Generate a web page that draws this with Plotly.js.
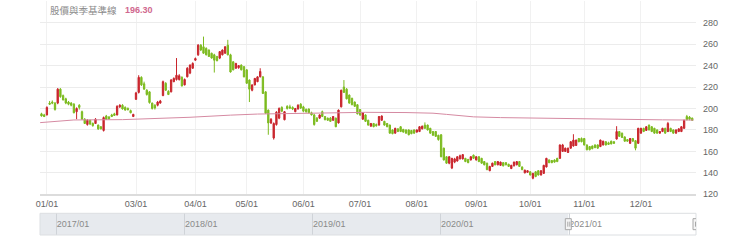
<!DOCTYPE html>
<html><head><meta charset="utf-8">
<script src="https://cdn.plot.ly/plotly-3.0.1.min.js"></script>
<style>html,body{margin:0;padding:0;background:#fff}#chart{width:740px;height:252px}</style>
</head><body><div id="chart"></div>
<script>
// Daily candles (trading-day index 0..241)
const openP = [
195,194,194,205,206,205,205,218,212,209,
206,205,204,197,203,197,190,185,189,186,
186,184.5,183,179.5,193,192,194,195,194,201.5,
203,201,200,198,192.5,208.5,215,229,223,217,
215.5,205,203,203,205,212,223.5,216,215.5,225,
227,227,229,222,229.5,233,237.5,245,250,259,
257.5,256,254.5,251.5,250,248.5,247,250,251.5,259,
250,243.5,237.5,238,240.5,239,236,226.5,217,222,
225,229.5,229.5,215.5,198.5,186.5,172.5,185,191,201,
189.5,202,201.5,201,197,199.5,204,201.5,199,199.5,
196,194,191,191,197,192.5,191,191,189,191,
186.5,201.5,220,218,212.5,209.5,206,203.5,199,190,
194,189,183.5,186,185,184.5,189,188,186,184.5,
180,177,181,183,180.5,180,180,179.5,180,178,
178.5,181,184.5,184.5,181.5,178.5,178.5,175,175.5,163,
155,149,144.5,150,151,153,153,153.5,152.5,152,
156.5,152,155,153.5,150.5,149,142,146,150.5,147.5,
147,149.5,149.5,148,144,146.5,147.5,150.5,145.5,140,
140.5,141,135,141,142,138,139.5,145.5,152,151.5,
152,153.5,153.5,160,160,159,163,165,165.5,172,
172,172,166,164.5,165,166,166,164.5,166,169,
168,169.5,169,171.5,178.5,177,173.5,171,167.5,172,
170,167.5,177,181.5,179.5,184.5,183,181.5,180,177,
178.5,181.5,178.5,181.5,180,177,178.5,178.5,181.5,192.5,
192,191];
const highP = [
196,195,202,207,207.5,206,219,219,213,210,
207,206,205,201,204,198,191,190,189.5,187,
191,185,183.5,192.5,194,193,195,196,203,204,
204,202,201,199,195,215.5,231,230,225,218,
216,205.5,204,207,208,226,224.5,217,227.5,229,
247,232,230,228,238.5,241,243,247.5,260,260,
267,257,255,252,251,249,253.5,255,258,264,
251,244,242.5,240.5,241,239.5,236.5,227,222.5,228.5,
230,237.5,230,216,199,191,187,197.5,201,202,
197.5,203,203.5,202,200.5,204,205,202.5,200,200,
197,195,192,194.5,198,193,191.5,192,193,191.5,
199,217.5,226.5,219,213,210,206.5,204,199.5,196.5,
194.5,189.5,186.5,186.5,186,193,193.5,188.5,186.5,185,
180.5,182,181.5,183.5,181,180.5,180.5,180,180.5,180.5,
183.5,184,187,185,182,179,179,175.5,176,163.5,
155.5,155.5,154,154,155.5,157,157.5,154,153,155.5,
157,155.5,155.5,154,151,149.5,146.5,149.5,151,151,
150.5,150,150,148.5,147.5,150.5,151,151,146,143,
142.5,141.5,140,141.5,142.5,142.5,147.5,154,152.5,152,
152.5,154,166.5,167,163.5,163.5,169.5,176,171,172.5,
173,172.5,166.5,165,165.5,166.5,166.5,171,170,169.5,
169,170,169.5,183.5,179,177.5,174,171.5,172.5,172.5,
170.5,182,182,182,183.5,185,183.5,182,180.5,179,
182,182,187.5,182,180.5,180.5,181.5,183.5,189.5,194,
193,191.5];
const lowP = [
192.5,192,193.5,203.5,204,198,204,210,207.5,204,
203,202,195.5,190,199,189.5,185.5,184,184.5,183,
185.5,180,180.5,178.5,189.5,189.5,192,193,193.5,200.5,
199,198,198,195.5,192,208,214,221,217.5,212,
204.5,199,199,202,204.5,211.5,216.5,212.5,215,224.5,
226,226,220.5,221.5,229,232,237,244.5,249,253.5,
251,249.5,248,246.5,233.5,244,246,249.5,251,249.5,
233.5,235.5,237,237,235.5,229,223,206,216,221.5,
224.5,229,213.5,195,175.5,185.5,171,184,190,196.5,
189,199,199.5,198.5,196.5,199,199.5,196.5,196,195.5,
193.5,184,187.5,190.5,192,189,188.5,187.5,188.5,182.5,
186,201,214.5,208.5,204.5,203,201.5,194.5,193,189.5,
187.5,184,183,182.5,183,184,188.5,184,182.5,176.5,
176,176.5,178,178,177.5,176.5,175,176,176.5,177.5,
178,180.5,181,179.5,176.5,174.5,173.5,170,154.5,151.5,
148.5,148,143.5,149,150.5,152.5,152.5,150,149,151.5,
153,151.5,150,148.5,147,142.5,141.5,145.5,147,147,
146.5,146,147,145.5,143.5,146,147,145.5,142.5,139.5,
140,137.5,134,136,137.5,137.5,139,145,149,149,
149.5,150,153,159.5,159.5,158.5,162.5,164.5,165,168.5,
168.5,165.5,161,161,162,163,162.5,164,165.5,165.5,
166,166.5,167,171,173.5,172.5,169,169,167,169,
161,167,176.5,178,179,179.5,178,176.5,176.5,176.5,
178,176.5,178,178,176.5,176.5,178,178,181,189,
189,188.5];
const closeP = [
193,192.5,201,204,205,199,218,211,208,205,
204,203,196,200,201,190,186,189,185.5,184,
190,181,181,191.5,190,190.5,192.5,193.5,202,203,
199.5,198.5,199,196,194.5,214.5,229,222,218,213,
205.5,200,200.5,206,207,225,217,213,226.5,228,
231,230.5,221,227,237.5,240.5,242,246.5,259,254.5,
251.5,250,248.5,247,245,244.5,253,254.5,257.5,250,
234,236,242,240,236,229.5,223.5,218,222,228,
229.5,234.5,214,195.5,186.5,190,186,196.5,200,197.5,
197,200,200.5,199.5,200,203,200.5,197.5,197,196,
194,185,188,194,192.5,189.5,189,188,192.5,183,
198.5,217,215,209,205,203.5,202,195,194,196,
188,184.5,186,183,184,192.5,193,184.5,183,177,
176.5,181.5,178.5,178.5,178,177,175.5,176.5,177,180,
183,183.5,181.5,180,177,175,174,171,155,152,
149,155,153.5,153,155,156,157,150.5,149.5,155,
153.5,155,150.5,149,147.5,143,146,149,147.5,150.5,
150,146.5,147.5,146,147,150,150.5,146,143,142.5,
142,138,139.5,136.5,138,142,147,153.5,149.5,149.5,
150,150.5,166,166,163,163,169,170.5,170.5,169,
169,166,161.5,161.5,162.5,163.5,163,170.5,169.5,166,
166.5,167,167.5,178.5,174,173,169.5,169.5,172,169.5,
163,181.5,181.5,178.5,183,180,178.5,177,177,178.5,
181.5,177,186,178.5,177,180,181,183,189,189.5,
190,189];

// Long-term baseline (read at selected trading-day positions)
const baseIdx = [-0.5,5,12,30,40,55,70,80,95,110,120,135,145,150,160,170,185,200,215,230,241.5];
const baseVal = [186.8,188.2,189.3,189.6,190.3,191.8,193.8,194.8,195.4,196,196.4,196.2,195.6,194.5,192.2,191.5,190.8,190.2,189.7,189.4,189.2];

// Month tick labels (trading-day index of first session of month)
const monthTickIdx = [2,35,57,76,97,118,139,161,181,201,222];
const monthTickText = ['01/01','03/01','04/01','05/01','06/01','07/01','08/01','09/01','10/01','11/01','12/01'];
const priceTicks = [120,140,160,180,200,220,240,260,280,300];

// Navigator
const navStart = '2016-11-14', navEnd = '2021-12-28';
const viewStart = '2020-12-29';

const titleText = '股價與季基準線';
const titleValue = '196.30';

const dayIdx = closeP.map((_, i) => i);

const traces = [
  {
    type: 'candlestick', x: dayIdx, open: openP, high: highP, low: lowP, close: closeP,
    xaxis: 'x', yaxis: 'y',
    increasing: {line: {color: '#c9252c', width: 1}, fillcolor: '#c9252c'},
    decreasing: {line: {color: '#7cbb1f', width: 1}, fillcolor: '#7cbb1f'},
    whiskerwidth: 0, hoverinfo: 'skip'
  },
  {
    type: 'scatter', mode: 'lines', x: baseIdx, y: baseVal, xaxis: 'x', yaxis: 'y',
    line: {color: '#d58aa2', width: 1}, hoverinfo: 'skip'
  },
  {type: 'scatter', mode: 'lines', x: [navStart, navEnd], y: [null, null], xaxis: 'x2', yaxis: 'y2', hoverinfo: 'skip'}
];

const handle = (xd) => ([
  {type: 'rect', xref: 'x2', xsizemode: 'pixel', xanchor: xd, x0: -3, x1: 3,
   yref: 'y2', ysizemode: 'pixel', yanchor: 0.5, y0: -5.5, y1: 5.5,
   fillcolor: '#f4f4f4', line: {color: '#a8a8a8', width: 1}, layer: 'above'},
  {type: 'line', xref: 'x2', xsizemode: 'pixel', xanchor: xd, x0: -0.5, x1: -0.5,
   yref: 'y2', ysizemode: 'pixel', yanchor: 0.5, y0: -2.5, y1: 2.5,
   line: {color: '#a8a8a8', width: 1}, layer: 'above'},
  {type: 'line', xref: 'x2', xsizemode: 'pixel', xanchor: xd, x0: 1.5, x1: 1.5,
   yref: 'y2', ysizemode: 'pixel', yanchor: 0.5, y0: -2.5, y1: 2.5,
   line: {color: '#a8a8a8', width: 1}, layer: 'above'}
]);

const layout = {
  width: 740, height: 252,
  margin: {l: 40, r: 44, t: 0, b: 17},
  paper_bgcolor: '#ffffff', plot_bgcolor: '#ffffff',
  showlegend: false, hovermode: false,
  font: {family: '"Liberation Sans", Arial, sans-serif', size: 9, color: '#666'},
  xaxis: {
    domain: [0, 1], anchor: 'y', range: [-0.556, 242.4],
    tickmode: 'array', tickvals: monthTickIdx, ticktext: monthTickText,
    showgrid: true, gridcolor: '#f1f1f1', gridwidth: 1,
    showline: true, linecolor: '#dcdcdc', linewidth: 1.5,
    ticks: '', zeroline: false, rangeslider: {visible: false},
    tickfont: {size: 9, color: '#666'}, fixedrange: true
  },
  yaxis: {
    domain: [0.1732, 0.9949], anchor: 'x', range: [120, 300], side: 'right',
    tickmode: 'array', tickvals: priceTicks,
    showgrid: true, gridcolor: '#ececec', gridwidth: 1, zeroline: false,
    ticks: '', ticklabelstandoff: 6, tickfont: {size: 9, color: '#666'}, fixedrange: true
  },
  xaxis2: {
    domain: [0, 1], anchor: 'y2', type: 'date', range: [navStart, navEnd],
    tick0: '2017-01-01', dtick: 'M12', tickformat: '%Y/%m',
    ticklabelposition: 'inside right', ticks: '',
    showgrid: true, gridcolor: '#cfd3d8', gridwidth: 1,
    showline: false, zeroline: false, tickfont: {size: 9, color: '#8a8a8a'}, fixedrange: true
  },
  yaxis2: {
    domain: [0, 0.0923], anchor: 'x2', range: [0, 1],
    showgrid: false, showticklabels: false, zeroline: false, showline: false, fixedrange: true
  },
  shapes: [
    {type: 'rect', xref: 'x2', yref: 'y2 domain', x0: navStart, x1: viewStart, y0: 0, y1: 1,
     fillcolor: '#e7eaee', line: {width: 0}, layer: 'below'},
    {type: 'rect', xref: 'x2 domain', yref: 'y2 domain', x0: 0, x1: 1, y0: 0, y1: 1,
     fillcolor: 'rgba(0,0,0,0)', line: {color: '#dcdfe2', width: 1}, layer: 'above'},
    ...handle(viewStart), ...handle(navEnd)
  ],
  annotations: [
    {text: titleText, xref: 'paper', yref: 'paper', x: 0.0115, y: 0.957, xanchor: 'left', yanchor: 'middle',
     showarrow: false, font: {family: '"Noto Sans CJK TC", "Noto Sans CJK SC", sans-serif', size: 9.5, color: '#8a8a8a'}},
    {text: '<b>' + titleValue + '</b>', xref: 'paper', yref: 'paper', x: 0.1265, y: 0.957, xanchor: 'left', yanchor: 'middle',
     showarrow: false, font: {family: '"Liberation Sans", Arial, sans-serif', size: 9, color: '#d0688e'}}
  ]
};

Plotly.newPlot('chart', traces, layout, {displayModeBar: false, staticPlot: true});
</script>
</body></html>
